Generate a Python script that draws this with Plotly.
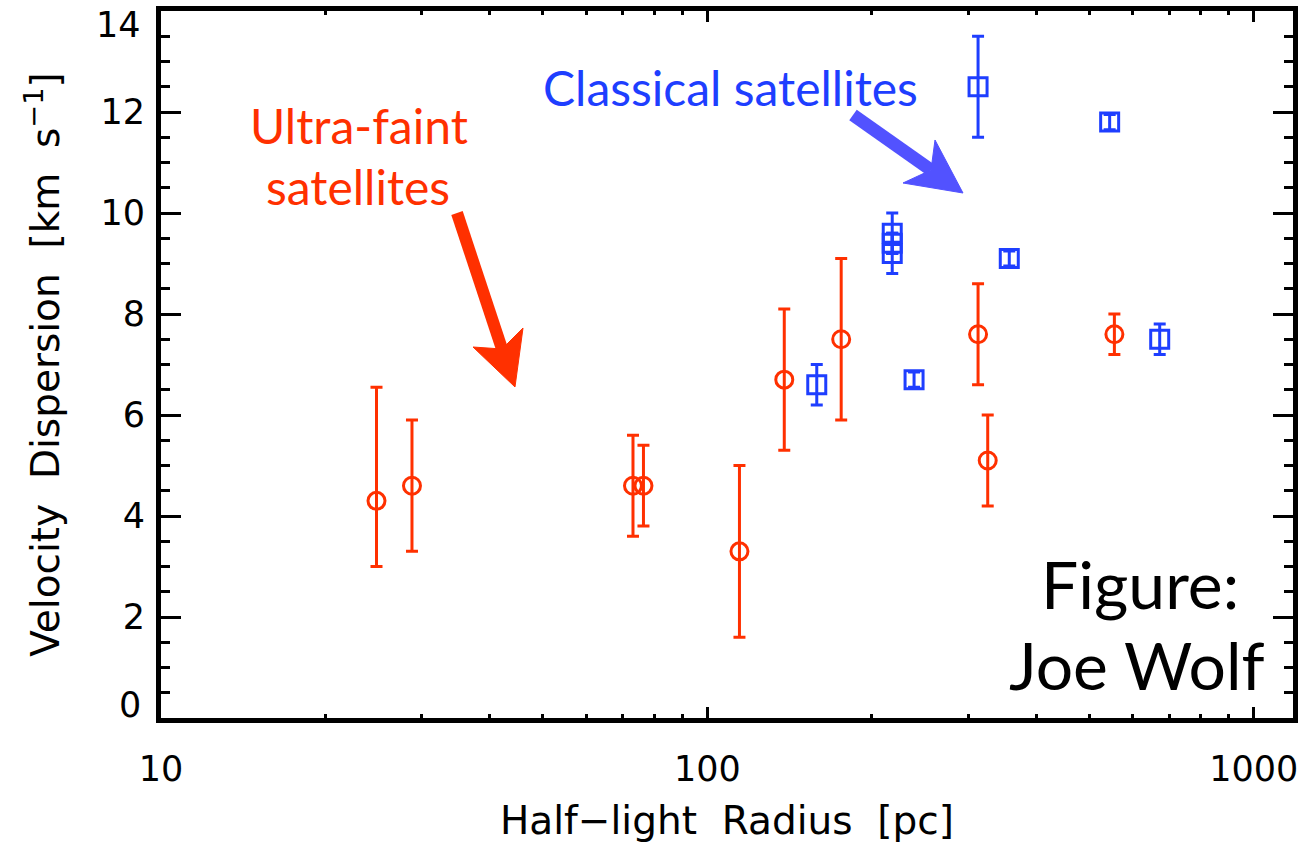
import plotly.graph_objects as go

# ---- data ----
uf_radius = [24.8, 28.8, 73.1, 76.4, 114.5, 138.3, 175.8, 313, 326, 556]
uf_sigma = [4.3, 4.6, 4.6, 4.6, 3.3, 6.7, 7.5, 7.6, 5.1, 7.6]
uf_err_hi = [2.25, 1.3, 1.0, 0.8, 1.7, 1.4, 1.6, 1.0, 0.9, 0.4]
uf_err_lo = [1.3, 1.3, 1.0, 0.8, 1.7, 1.4, 1.6, 1.0, 0.9, 0.4]

cl_radius = [158.6, 218, 218, 218, 239, 313, 357, 545, 673]
cl_sigma = [6.6, 9.6, 9.4, 9.2, 6.7, 12.5, 9.1, 11.8, 7.5]
cl_err = [0.4, 0.4, 0.2, 0.4, 0.15, 1.0, 0.15, 0.15, 0.3]

x_ticks = [10, 100, 1000]
x_minor = [20, 30, 40, 50, 60, 70, 80, 90, 200, 300, 400, 500, 600, 700, 800, 900]
y_ticks = [0, 2, 4, 6, 8, 10, 12, 14]

RED = "#FF3000"
BLUE = "#1E3EFF"
ARROW_BLUE = "#5252FF"

W, H = 1303, 846
L, R, T, B = 161, 10, 11, 128

fig = go.Figure()

fig.add_trace(go.Scatter(
    x=uf_radius, y=uf_sigma, mode="markers",
    marker=dict(symbol="circle-open", size=17, color=RED, line=dict(width=3, color=RED)),
    error_y=dict(type="data", array=uf_err_hi, arrayminus=uf_err_lo, symmetric=False,
                 color=RED, thickness=3, width=6),
    showlegend=False,
))
fig.add_trace(go.Scatter(
    x=cl_radius, y=cl_sigma, mode="markers",
    marker=dict(symbol="square-open", size=18, color=BLUE, line=dict(width=3, color=BLUE)),
    error_y=dict(type="data", array=cl_err, color=BLUE, thickness=3, width=6),
    showlegend=False,
))

# ---- arrows (decorations, in paper coordinates derived from pixel layout) ----
pw, ph = W - L - R, H - T - B


def P(px, py):
    return (px - L) / pw, (H - B - py) / ph


def arrow(tail, tip, wing1, wing2, notch, color, width):
    x0, y0 = P(*tail)
    xn, yn = P(*notch)
    fig.add_shape(type="line", xref="paper", yref="paper", x0=x0, y0=y0, x1=xn, y1=yn,
                  line=dict(color=color, width=width), layer="above")
    pts = [P(*tip), P(*wing1), P(*notch), P(*wing2)]
    path = "M " + " L ".join(f"{a:.5f},{b:.5f}" for a, b in pts) + " Z"
    fig.add_shape(type="path", xref="paper", yref="paper", path=path,
                  fillcolor=color, line=dict(color=color, width=1), layer="above")


arrow((457, 213), (515, 387), (473, 347), (523, 328), (502, 349), RED, 12)
arrow((853, 115), (963, 193), (903, 183), (935, 140), (931, 170), ARROW_BLUE, 13)

# ---- text annotations ----
ann_font = "Lato"
fig.add_annotation(text="Ultra-faint", x=P(359, 0)[0], y=P(0, 126)[1], xref="paper", yref="paper",
                   showarrow=False, font=dict(family=ann_font, size=48, color=RED),
                   xanchor="center", yanchor="middle")
fig.add_annotation(text="satellites", x=P(358, 0)[0], y=P(0, 186)[1], xref="paper", yref="paper",
                   showarrow=False, font=dict(family=ann_font, size=48, color=RED),
                   xanchor="center", yanchor="middle")
fig.add_annotation(text="Classical satellites", x=P(730, 0)[0], y=P(0, 88)[1], xref="paper", yref="paper",
                   showarrow=False, font=dict(family=ann_font, size=48, color=BLUE),
                   xanchor="center", yanchor="middle")
fig.add_annotation(text="Figure:", x=P(1140, 0)[0], y=P(0, 583)[1], xref="paper", yref="paper",
                   showarrow=False, font=dict(family=ann_font, size=66, color="black"),
                   xanchor="center", yanchor="middle")
fig.add_annotation(text="Joe Wolf", x=P(1137, 0)[0], y=P(0, 664)[1], xref="paper", yref="paper",
                   showarrow=False, font=dict(family=ann_font, size=66, color="black"),
                   xanchor="center", yanchor="middle")

axis_font = dict(family="DejaVu Sans", size=35, color="black")

# end tick labels of the y axis sit just inside the frame (as in the reference)
end_labels = {y_ticks[0]: 13, y_ticks[-1]: -14}
inner_ticks = [v for v in y_ticks if v not in end_labels]
for v, shift in end_labels.items():
    fig.add_annotation(text=str(v), x=0, y=v, xref="paper", yref="y", showarrow=False,
                       xanchor="right", yanchor="middle", xshift=-18, yshift=shift,
                       font=axis_font)

fig.update_xaxes(
    type="log", range=[1, 3.072],
    tickvals=x_ticks, ticktext=[str(v) for v in x_ticks],
    ticks="inside", ticklen=11, tickwidth=3, tickcolor="black",
    minor=dict(tickvals=x_minor, ticks="inside", ticklen=4, tickwidth=3, tickcolor="black"),
    showline=True, linewidth=5, linecolor="black", mirror="ticks",
    showgrid=False, zeroline=False,
    tickfont=axis_font, ticklabelstandoff=16,
    title=dict(text="Half\u2212light\u00a0 Radius\u00a0 [pc]",
               font=dict(family="DejaVu Sans", size=39, color="black"),
               standoff=20),
)
fig.update_yaxes(
    range=[0, 14], tickvals=inner_ticks, ticktext=[str(v) for v in inner_ticks],
    ticks="inside", ticklen=20, tickwidth=3, tickcolor="black",
    minor=dict(dtick=0.5, ticks="inside", ticklen=9, tickwidth=3, tickcolor="black"),
    showline=True, linewidth=5, linecolor="black", mirror="ticks",
    showgrid=False, zeroline=False,
    tickfont=axis_font, ticklabelstandoff=4,
    title=dict(text="Velocity\u00a0 Dispersion\u00a0 [km\u00a0 s<sup>\u22121</sup>]",
               font=dict(family="DejaVu Sans", size=39, color="black"), standoff=30),
)

fig.update_layout(
    width=W, height=H,
    margin=dict(l=L, r=R, t=T, b=B, autoexpand=False),
    paper_bgcolor="white", plot_bgcolor="white",
)

fig.write_html("out.html")
